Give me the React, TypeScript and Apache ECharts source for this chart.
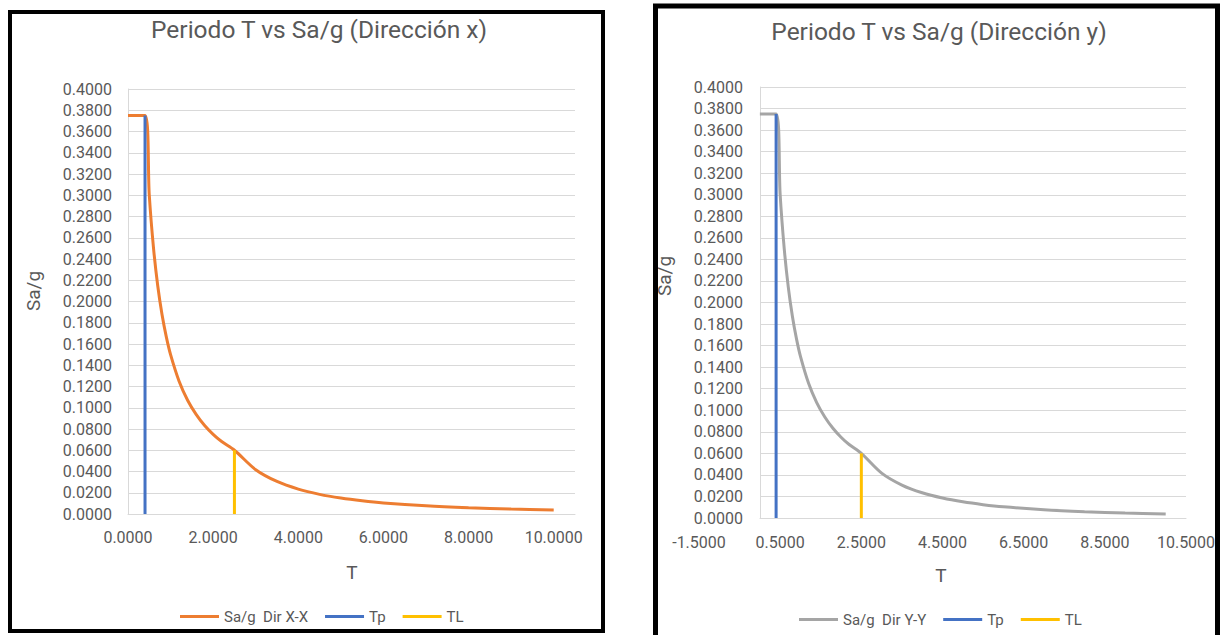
import React, { useEffect, useRef } from "react";
import * as echarts from "echarts";

// Periodo T (s) and spectral ordinate Sa/g
const periodT = [0, 0.4, 0.5, 0.6, 0.7, 0.8, 0.9, 1.0, 1.2, 1.4, 1.6, 1.8, 2.0, 2.2, 2.5, 3.0, 3.5, 4.0, 4.5, 5.0, 5.5, 6.0, 7.0, 8.0, 9.0, 10.0];
const saDirX = [0.375, 0.375, 0.3, 0.25, 0.2143, 0.1875, 0.1667, 0.15, 0.125, 0.1071, 0.0938, 0.0833, 0.075, 0.0682, 0.06, 0.0417, 0.0306, 0.0234, 0.0185, 0.015, 0.0124, 0.0104, 0.0077, 0.0059, 0.0046, 0.0038];
const saDirY = [0.375, 0.375, 0.3, 0.25, 0.2143, 0.1875, 0.1667, 0.15, 0.125, 0.1071, 0.0938, 0.0833, 0.075, 0.0682, 0.06, 0.0417, 0.0306, 0.0234, 0.0185, 0.015, 0.0124, 0.0104, 0.0077, 0.0059, 0.0046, 0.0038];
const tpT = [0.4, 0.4];
const tpSa = [0, 0.375];
const tlT = [2.5, 2.5];
const tlSa = [0, 0.06];

const titles = ["Periodo T vs Sa/g (Dirección x)", "Periodo T vs Sa/g (Dirección y)"];
const seriesNames = ["Sa/g  Dir X-X", "Sa/g  Dir Y-Y", "Tp", "TL"];
const xAxisLeft = { min: 0, max: 10.5, interval: 2 };
const xAxisRight = { min: -1.5, max: 10.5, interval: 2 };
const yAxisRange = { min: 0, max: 0.4, interval: 0.02 };

const FONT = "Roboto, 'Noto Sans', sans-serif";
const TXT = "#595959";
const GRID = "#D9D9D9";
const ORANGE = "#ED7D31";
const BLUE = "#4472C4";
const GOLD = "#FFC000";
const GRAY = "#A5A5A5";

const zip = (a: number[], b: number[]) => a.map((v, i) => [v, b[i]]);

export default function App() {
  const ref = useRef<HTMLDivElement>(null);
  useEffect(() => {
    if (!ref.current) return;
    const chart = echarts.init(ref.current, undefined, { renderer: "svg" });
    const tickLabel = { color: TXT, fontSize: 16, fontFamily: FONT };
    const fmt4 = (v: number) => v.toFixed(4);
    const fmtEven = (v: number) => (Math.abs(v % 2) < 1e-9 ? v.toFixed(4) : "");
    const line = (name: string, data: number[][], color: string, x: number, y: number, z = 2, smooth: any = 0) => ({
      type: "line",
      name,
      xAxisIndex: x,
      yAxisIndex: y,
      data,
      color,
      showSymbol: false,
      symbol: "none",
      lineStyle: { color, width: 3 },
      z,
      smooth,
    });
    const legendText = { color: TXT, fontSize: 15, fontFamily: FONT };
    const option: any = {
      animation: false,
      backgroundColor: "#ffffff",
      title: [
        { text: titles[0], left: 314, top: 12, textAlign: "center", textStyle: { color: TXT, fontSize: 24.5, fontWeight: "normal", fontFamily: FONT } },
        { text: titles[1], left: 934, top: 14, textAlign: "center", textStyle: { color: TXT, fontSize: 24.5, fontWeight: "normal", fontFamily: FONT } },
      ],
      legend: [
        {
          data: [seriesNames[0], seriesNames[2], seriesNames[3]],
          left: 175, top: 604, icon: "rect", itemWidth: 39, itemHeight: 3, itemGap: 17, selectedMode: false,
          textStyle: legendText,
        },
        {
          data: [seriesNames[1], seriesNames[2], seriesNames[3]],
          left: 794, top: 607, icon: "rect", itemWidth: 39, itemHeight: 3, itemGap: 17, selectedMode: false,
          textStyle: legendText,
        },
      ],
      grid: [
        { left: 128, top: 89, width: 447, height: 425, containLabel: false },
        { left: 699, top: 87, width: 487, height: 431, containLabel: false },
        { left: 760, top: 87, width: 426, height: 431, containLabel: false },
      ],
      xAxis: [
        {
          type: "value", gridIndex: 0, ...xAxisLeft,
          axisLine: { show: true, lineStyle: { color: GRID, width: 1 } },
          axisTick: { show: false }, splitLine: { show: false },
          axisLabel: { ...tickLabel, margin: 15, formatter: fmtEven },
        },
        {
          type: "value", gridIndex: 1, ...xAxisRight,
          axisLine: { show: false }, axisTick: { show: false }, splitLine: { show: false },
          axisLabel: { ...tickLabel, margin: 16, formatter: fmt4 },
        },
        {
          type: "value", gridIndex: 2, min: 0, max: 10.5,
          axisLine: { show: true, lineStyle: { color: GRID, width: 1 } },
          axisTick: { show: false }, splitLine: { show: false }, axisLabel: { show: false },
        },
      ],
      yAxis: [
        {
          type: "value", gridIndex: 0, ...yAxisRange,
          axisLine: { show: true, lineStyle: { color: GRID, width: 1 } },
          axisTick: { show: false },
          splitLine: { show: true, lineStyle: { color: GRID, width: 1 } },
          axisLabel: { ...tickLabel, margin: 16, formatter: fmt4 },
        },
        {
          type: "value", gridIndex: 1, ...yAxisRange,
          axisLine: { show: false }, axisTick: { show: false }, splitLine: { show: false },
          axisLabel: { show: false },
        },
        {
          type: "value", gridIndex: 2, ...yAxisRange,
          axisLine: { show: true, lineStyle: { color: GRID, width: 1 } },
          axisTick: { show: false },
          splitLine: { show: true, lineStyle: { color: GRID, width: 1 } },
          axisLabel: { ...tickLabel, margin: 17, formatter: fmt4 },
        },
      ],
      series: [
        line(seriesNames[0], zip(periodT, saDirX), ORANGE, 0, 0, 2, 0.3),
        line(seriesNames[2], zip(tpT, tpSa), BLUE, 0, 0, 3),
        line(seriesNames[3], zip(tlT, tlSa), GOLD, 0, 0, 3),
        line(seriesNames[1], zip(periodT, saDirY), GRAY, 1, 1, 2, 0.3),
        line(seriesNames[2], zip(tpT, tpSa), BLUE, 1, 1, 3),
        line(seriesNames[3], zip(tlT, tlSa), GOLD, 1, 1, 3),
      ],
      graphic: [
        { type: "rect", silent: true, z: 50, shape: { x: 10, y: 12, width: 593, height: 619 }, style: { fill: "none", stroke: "#000", lineWidth: 4 } },
        { type: "rect", silent: true, z: 50, shape: { x: 655.5, y: 6, width: 562, height: 700 }, style: { fill: "none", stroke: "#000", lineWidth: 5 } },
        { type: "text", silent: true, x: 33, y: 291, rotation: Math.PI / 2, style: { text: "Sa/g", fill: TXT, font: `19px ${FONT}`, align: "center", verticalAlign: "middle" } },
        { type: "text", silent: true, x: 664, y: 276, rotation: Math.PI / 2, style: { text: "Sa/g", fill: TXT, font: `19px ${FONT}`, align: "center", verticalAlign: "middle" } },
        { type: "text", silent: true, x: 352, y: 572, style: { text: "T", fill: TXT, font: `19px ${FONT}`, align: "center", verticalAlign: "middle" } },
        { type: "text", silent: true, x: 941, y: 575, style: { text: "T", fill: TXT, font: `19px ${FONT}`, align: "center", verticalAlign: "middle" } },
      ],
    };
    chart.setOption(option);
    return () => chart.dispose();
  }, []);
  return <div ref={ref} style={{ position: "absolute", left: 0, top: 0, width: 1221, height: 635 }} />;
}
